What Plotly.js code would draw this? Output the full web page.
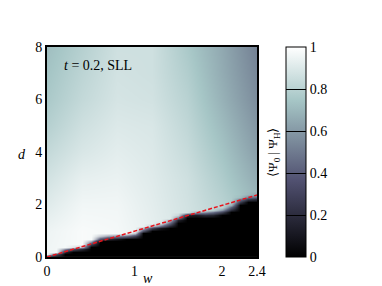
<!DOCTYPE html>
<html>
<head>
<meta charset="utf-8">
<script src="https://cdn.plot.ly/plotly-3.0.1.min.js"></script>
<style>html,body{margin:0;padding:0;background:#fff;}#chart{width:382px;height:286px;}</style>
</head>
<body>
<div id="chart"></div>
<script>
// Smooth overlap field <Psi_0|Psi_H> on a coarse grid
const wField = [0, 0.4, 0.8, 1.2, 1.6, 2.0, 2.4];
const dField = [0, 1, 2, 3, 4, 5, 6, 7, 8];
const overlap = [
  [0.96, 0.98, 0.97, 0.93, 0.88, 0.82, 0.75],
  [0.95, 0.98, 0.97, 0.93, 0.88, 0.82, 0.74],
  [0.91, 0.96, 0.96, 0.92, 0.87, 0.80, 0.71],
  [0.87, 0.93, 0.94, 0.91, 0.86, 0.77, 0.66],
  [0.83, 0.89, 0.92, 0.90, 0.84, 0.74, 0.62],
  [0.79, 0.86, 0.90, 0.89, 0.82, 0.71, 0.59],
  [0.76, 0.83, 0.88, 0.87, 0.80, 0.68, 0.56],
  [0.74, 0.81, 0.87, 0.86, 0.78, 0.66, 0.54],
  [0.72, 0.79, 0.86, 0.86, 0.76, 0.65, 0.52]
];
// Zero-overlap (black) region: for each w, where pure black ends and where the field resumes
const wEdge = [0,0.1,0.2,0.3,0.4,0.5,0.6,0.7,0.8,0.9,1.0,1.1,1.2,1.3,1.4,1.5,1.6,1.7,1.8,1.9,2.0,2.1,2.2,2.3,2.4];
const blackTop = [0,0.05,0.16,0.24,0.27,0.42,0.6,0.66,0.68,0.7,0.74,0.9,1.04,1.08,1.14,1.36,1.58,1.58,1.56,1.56,1.6,1.72,2.0,2.1,2.12];
const bandTop  = [0,0.18,0.4,0.42,0.44,0.68,0.86,0.88,0.89,0.9,0.94,1.17,1.24,1.32,1.48,1.63,1.7,1.74,1.77,1.82,1.9,2.08,2.33,2.42,2.46];
const dEdgeGrid = [0,0.1,0.2,0.3,0.4,0.5,0.6,0.7,0.8,0.9,1.0,1.1,1.2,1.3,1.4,1.5,1.6,1.7,1.8,1.9,2.0,2.1,2.2,2.3,2.4,2.5,2.6,2.7,2.8,2.9,3.0];
// Red dashed reference line
const lineW = [0, 2.4];
const lineD = [0, 2.36];
// Ticks
const cbTicks = [0, 0.2, 0.4, 0.6, 0.8, 1];
const cbText = ['0', '0.2', '0.4', '0.6', '0.8', '1'];
const xTicks = [0, 1, 2, 2.4];
const xTickText = ['0', '1', '2', '2.4'];
const yTicks = [0, 2, 4, 6, 8];

const bone = [
  [0, 'rgb(0,0,0)'],
  [0.365079, 'rgb(81,81,113)'],
  [0.746032, 'rgb(166,198,198)'],
  [1, 'rgb(255,255,255)']
];
// opacity table of the black region, built from blackTop / bandTop
const mask = dEdgeGrid.map(d => blackTop.map((b, i) => {
  const t = bandTop[i];
  if (d <= b) return 0;
  if (d >= t) return 1;
  return (d - b) / (t - b);
}));

const FONT = 'Liberation Serif';
const traces = [
  {
    type: 'heatmap', x: wField, y: dField, z: overlap,
    zmin: 0, zmax: 1, zsmooth: 'best', colorscale: bone, hoverinfo: 'skip',
    colorbar: {
      x: 1.138, xanchor: 'left', xpad: 0, y: 0.5, yanchor: 'middle', ypad: 0,
      len: 1, lenmode: 'fraction', thickness: 20,
      outlinewidth: 1, outlinecolor: '#000',
      tickvals: cbTicks, ticktext: cbText,
      ticks: 'inside', ticklen: 20, tickwidth: 1, tickcolor: '#000',
      tickfont: {family: FONT, size: 14, color: '#000'}
    }
  },
  {
    type: 'heatmap', x: wEdge, y: dEdgeGrid, z: mask,
    zmin: 0, zmax: 1, zsmooth: 'best', showscale: false, hoverinfo: 'skip',
    colorscale: [[0, 'rgba(0,0,0,1)'], [0.5, 'rgba(72,72,104,0.8)'], [1, 'rgba(140,150,165,0)']]
  },
  {
    type: 'scatter', mode: 'lines', x: lineW, y: lineD,
    line: {color: '#e8141c', width: 1.5, dash: '4px,2px'}, hoverinfo: 'skip', showlegend: false
  }
];

const layout = {
  width: 382, height: 286,
  margin: {l: 47, r: 125, t: 47, b: 29, pad: 0},
  paper_bgcolor: '#fff', plot_bgcolor: '#fff',
  font: {family: FONT, size: 14, color: '#000'},
  showlegend: false,
  xaxis: {
    range: [0, 2.4], tickvals: xTicks, ticktext: xTickText,
    showline: true, mirror: true, linecolor: '#000', linewidth: 2,
    ticks: '', showgrid: false, zeroline: false,
    tickfont: {family: FONT, size: 14, color: '#000'}
  },
  yaxis: {
    range: [0, 8], tickvals: yTicks,
    showline: true, mirror: true, linecolor: '#000', linewidth: 2,
    ticks: '', showgrid: false, zeroline: false,
    tickfont: {family: FONT, size: 14, color: '#000'}
  },
  annotations: [
    {text: '<i>t</i> = 0.2, SLL', xref: 'paper', yref: 'paper', x: 0.071, y: 0.91,
     xanchor: 'left', yanchor: 'middle', showarrow: false, font: {family: FONT, size: 14, color: '#000'}},
    {text: '<i>w</i>', xref: 'paper', yref: 'paper', x: 0.481, y: -0.1,
     xanchor: 'center', yanchor: 'middle', showarrow: false, font: {family: FONT, size: 14, color: '#000'}},
    {text: '<i>d</i>', xref: 'paper', yref: 'paper', x: -0.119, y: 0.486,
     xanchor: 'center', yanchor: 'middle', showarrow: false, font: {family: FONT, size: 14, color: '#000'}},
    {text: '⟨Ψ<sub>0</sub> | Ψ<sub>H</sub>⟩', xref: 'paper', yref: 'paper', x: 1.076, y: 0.5,
     xanchor: 'center', yanchor: 'middle', textangle: -90, showarrow: false,
     font: {family: FONT, size: 13, color: '#000'}}
  ]
};

Plotly.newPlot('chart', traces, layout, {staticPlot: true, displayModeBar: false});
</script>
</body>
</html>
